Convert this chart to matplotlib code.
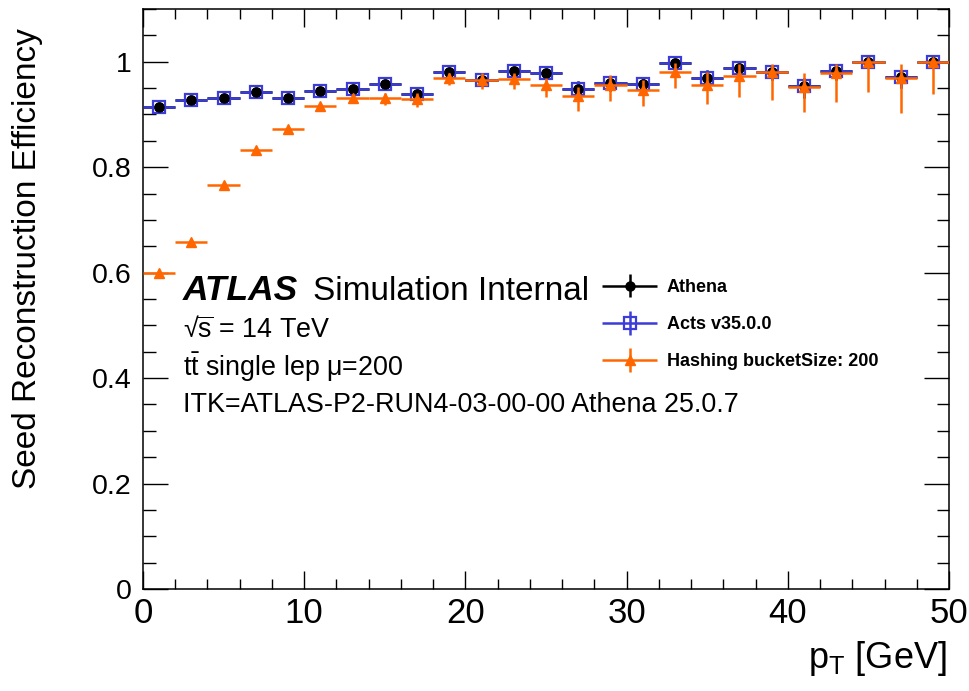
import numpy as np
import matplotlib
matplotlib.use("Agg")
import matplotlib.pyplot as plt
from matplotlib import font_manager
from matplotlib.ticker import MultipleLocator, FixedLocator
from matplotlib.legend_handler import HandlerErrorbar
from matplotlib.container import ErrorbarContainer

# ---- data: seed reconstruction efficiency vs pT (2 GeV bins) ----
pt_centers = [1, 3, 5, 7, 9, 11, 13, 15, 17, 19, 21, 23, 25,
              27, 29, 31, 33, 35, 37, 39, 41, 43, 45, 47, 49]
pt_halfwidth = 1.0

athena_eff = [0.915, 0.927, 0.932, 0.9425, 0.932, 0.945, 0.949, 0.958, 0.939,
              0.980, 0.965, 0.983, 0.979, 0.948, 0.959, 0.958, 0.998, 0.970,
              0.988, 0.981, 0.954, 0.982, 1.000, 0.971, 1.000]
athena_err_lo = [0.004, 0.004, 0.004, 0.004, 0.005, 0.006, 0.006, 0.007, 0.008,
                 0.008, 0.010, 0.009, 0.010, 0.018, 0.015, 0.016, 0.012, 0.017,
                 0.014, 0.016, 0.022, 0.016, 0.012, 0.020, 0.012]
athena_err_hi = [0.004, 0.004, 0.004, 0.004, 0.005, 0.005, 0.005, 0.006, 0.007,
                 0.006, 0.008, 0.006, 0.007, 0.015, 0.012, 0.013, 0.002, 0.014,
                 0.008, 0.010, 0.015, 0.010, 0.000, 0.012, 0.000]

acts_eff = [0.915, 0.927, 0.932, 0.9425, 0.932, 0.945, 0.949, 0.958, 0.939,
            0.980, 0.965, 0.983, 0.979, 0.948, 0.959, 0.958, 0.998, 0.970,
            0.988, 0.981, 0.954, 0.982, 1.000, 0.971, 1.000]
acts_err_lo = athena_err_lo
acts_err_hi = athena_err_hi

hash_eff = [0.600, 0.658, 0.767, 0.833, 0.8715, 0.916, 0.932, 0.932, 0.930,
            0.970, 0.966, 0.967, 0.955, 0.935, 0.956, 0.9455, 0.980, 0.956,
            0.973, 0.980, 0.953, 0.9785, 1.000, 0.970, 1.000]
hash_err_lo = [0.003, 0.003, 0.003, 0.003, 0.004, 0.005, 0.011, 0.014, 0.016,
               0.015, 0.018, 0.019, 0.021, 0.028, 0.030, 0.030, 0.030, 0.037,
               0.040, 0.052, 0.049, 0.054, 0.057, 0.068, 0.062]
hash_err_hi = [0.003, 0.003, 0.003, 0.003, 0.004, 0.004, 0.006, 0.008, 0.010,
               0.008, 0.012, 0.011, 0.014, 0.017, 0.018, 0.020, 0.018, 0.024,
               0.022, 0.016, 0.025, 0.017, 0.000, 0.025, 0.000]

labels = ["Athena", "Acts v35.0.0", "Hashing bucketSize: 200"]
x_ticks = [0, 10, 20, 30, 40, 50]
y_ticks = [0, 0.2, 0.4, 0.6, 0.8, 1.0]
y_ticklabels = ["0", "0.2", "0.4", "0.6", "0.8", "1"]

# ---- fonts ----
available = {f.name for f in font_manager.fontManager.ttflist}
SANS = "Liberation Sans"
NARROW = "Liberation Sans Narrow" if "Liberation Sans Narrow" in available else SANS
plt.rcParams["font.family"] = [SANS, "DejaVu Sans"]
plt.rcParams["mathtext.fontset"] = "custom"
plt.rcParams["mathtext.rm"] = SANS
plt.rcParams["mathtext.it"] = SANS + ":italic"
plt.rcParams["mathtext.bf"] = SANS + ":bold"

W, H = 969, 691
fig = plt.figure(figsize=(W / 100, H / 100), dpi=100)
L, R, T, B = 143, 949, 9, 589
ax = fig.add_axes([L / W, 1 - B / H, (R - L) / W, (B - T) / H])

BLACK = "#000000"
BLUE = "#3c3cd8"
ORANGE = "#ff6600"

x = np.array(pt_centers)

# Acts (open blue squares)
acts = ax.errorbar(x, acts_eff, xerr=pt_halfwidth,
                   yerr=[acts_err_lo, acts_err_hi],
                   fmt="s", color=BLUE, mfc="none", mec=BLUE, mew=1.6,
                   ms=8.5, elinewidth=1.8, capsize=0, zorder=3)
# Athena (black dots): bars underneath, dots on top
athena = ax.errorbar(x, athena_eff, xerr=pt_halfwidth,
                     yerr=[athena_err_lo, athena_err_hi],
                     fmt="o", color=BLACK, ms=6.5, elinewidth=1.8,
                     capsize=0, zorder=2)
ax.plot(x, athena_eff, "o", color=BLACK, ms=6.5, zorder=4)
# Hashing (orange triangles)
hashing = ax.errorbar(x, hash_eff, xerr=pt_halfwidth,
                      yerr=[hash_err_lo, hash_err_hi],
                      fmt="^", color=ORANGE, ms=7, elinewidth=1.8,
                      capsize=0, zorder=5)

ax.set_xlim(0, 50)
ax.set_ylim(0, 1.1)

ax.xaxis.set_major_locator(FixedLocator(x_ticks))
ax.xaxis.set_minor_locator(MultipleLocator(2))
ax.yaxis.set_major_locator(FixedLocator(y_ticks))
ax.yaxis.set_minor_locator(MultipleLocator(0.05))
ax.set_yticklabels(y_ticklabels)

ax.tick_params(which="both", direction="in", top=True, right=True, width=1.0)
ax.tick_params(axis="x", which="major", length=13, pad=6)
ax.tick_params(axis="x", which="minor", length=7)
ax.tick_params(axis="y", which="major", length=18, pad=8)
ax.tick_params(axis="y", which="minor", length=9)
for lab in ax.get_xticklabels():
    lab.set_fontfamily(NARROW)
    lab.set_fontsize(25)
for lab in ax.get_yticklabels():
    lab.set_fontsize(20.5)
for sp in ax.spines.values():
    sp.set_linewidth(1.1)

# axis titles
fig.text(28 / W, 1 - 28 / H, "Seed Reconstruction Efficiency", rotation=90,
         ha="center", va="top", fontsize=24)
fig.text(947 / W, 1 - 668 / H, r"$\mathregular{p_{T}}$ [GeV]",
         ha="right", va="baseline", fontsize=26, family=NARROW)

# ATLAS label block
def ftxt(px, py, s, **kw):
    return fig.text(px / W, 1 - py / H, s, ha="left", va="baseline", **kw)

ftxt(183, 300, "ATLAS", fontsize=25.5, fontweight="bold", fontstyle="italic")
ftxt(313, 300, "Simulation Internal", fontsize=24)
ftxt(183, 338, r"√$\overline{\mathrm{s}}$ = 14 TeV", fontsize=19.4)
ftxt(183, 376, r"$\mathrm{t\bar{t}}$ single lep μ=200", fontsize=19.4)
ftxt(183, 412, "ITK=ATLAS-P2-RUN4-03-00-00 Athena 25.0.7", fontsize=19.4)

# legend: full-width horizontal bar plus vertical bar through the marker
LEG_FS = 13
HL = 3.05
err_handler = HandlerErrorbar(xerr_size=HL / 2, yerr_size=0.65)
leg = ax.legend([athena, acts, hashing], labels,
                loc="upper left",
                bbox_to_anchor=((602 - L) / (R - L), (B - 279) / (B - T)),
                frameon=False, prop={"family": SANS, "weight": "bold", "size": LEG_FS},
                handlelength=HL, handletextpad=0.55, labelspacing=1.12,
                borderpad=0, borderaxespad=0,
                handler_map={ErrorbarContainer: err_handler})

fig.savefig("out.png", dpi=100)
